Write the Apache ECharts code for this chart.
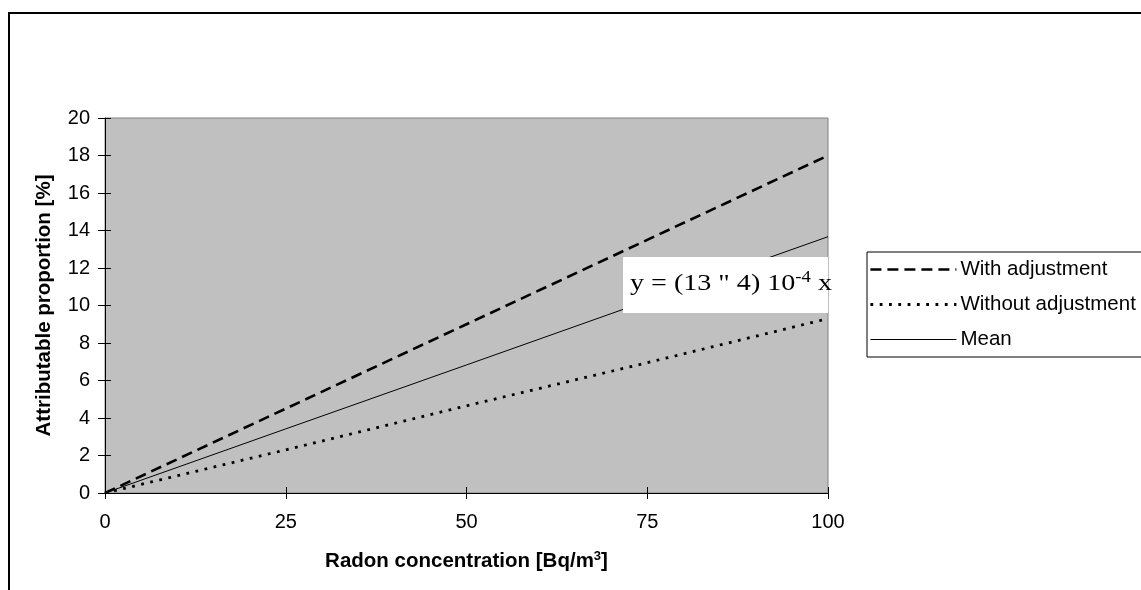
<!DOCTYPE html>
<html>
<head>
<meta charset="utf-8">
<script src="https://cdn.jsdelivr.net/npm/echarts@6/dist/echarts.min.js"></script>
<style>
html,body{margin:0;padding:0;background:#fff;}
#chart{width:1141px;height:590px;}
</style>
</head>
<body>
<div id="chart"></div>
<script>
const radon = [0, 25, 50, 75, 100];
const withAdjustment = [0, 4.5, 9.0, 13.5, 18.0];
const withoutAdjustment = [0, 2.3, 4.65, 6.95, 9.3];
const meanValues = [0, 3.42, 6.83, 10.25, 13.67];
const xTicks = [0, 25, 50, 75, 100];
const yTicks = [0, 2, 4, 6, 8, 10, 12, 14, 16, 18, 20];
const seriesNames = ['With adjustment', 'Without adjustment', 'Mean'];

const pairs = (ys) => radon.map((x, i) => [x, ys[i]]);
const sans = "'Liberation Sans', Arial, sans-serif";
const serif = "'Liberation Serif', 'Times New Roman', serif";

const dashStyle = {color: '#000', width: 2.6, type: [11, 6]};
const dotStyle = {color: '#000', width: 2.8, type: [2.8, 6.5]};
const solidStyle = {color: '#000', width: 1, type: 'solid'};

const chart = echarts.init(document.getElementById('chart'), null, {renderer: 'canvas'});

const baseX = {
  type: 'value', min: xTicks[0], max: xTicks[xTicks.length - 1], interval: 25,
  splitLine: {show: false}
};
const baseY = {
  type: 'value', min: yTicks[0], max: yTicks[yTicks.length - 1], interval: 2,
  splitLine: {show: false}
};

chart.setOption({
  animation: false,
  backgroundColor: '#fff',
  grid: {
    left: 105, top: 118, right: 313, bottom: 97,
    show: true, backgroundColor: '#c0c0c0', borderColor: '#808080', borderWidth: 1
  },
  xAxis: [
    Object.assign({}, baseX, {
      position: 'bottom',
      name: '{a|Radon concentration [Bq/m}{s|3}{a|]}',
      nameLocation: 'middle', nameGap: 57,
      nameTextStyle: {
        rich: {
          a: {fontFamily: sans, fontSize: 20.5, fontWeight: 'bold', color: '#000', lineHeight: 22},
          s: {fontFamily: sans, fontSize: 13, fontWeight: 'bold', color: '#000', verticalAlign: 'top', lineHeight: 13}
        }
      },
      axisLine: {show: true, onZero: false, lineStyle: {color: '#000', width: 1}},
      axisTick: {show: true, inside: false, length: 6, lineStyle: {color: '#000'}},
      axisLabel: {margin: 19, fontFamily: sans, fontSize: 20, color: '#000'}
    }),
    Object.assign({}, baseX, {
      position: 'bottom',
      axisLine: {show: false},
      axisTick: {show: true, inside: true, length: 6, lineStyle: {color: '#000'}},
      axisLabel: {show: false}
    })
  ],
  yAxis: [
    Object.assign({}, baseY, {
      position: 'left',
      name: 'Attributable proportion [%]',
      nameLocation: 'middle', nameGap: 50, nameRotate: 90,
      nameTextStyle: {fontFamily: sans, fontSize: 20.5, fontWeight: 'bold', color: '#000'},
      axisLine: {show: true, onZero: false, lineStyle: {color: '#000', width: 1}},
      axisTick: {show: true, inside: false, length: 7, lineStyle: {color: '#000'}},
      axisLabel: {margin: 15, fontFamily: sans, fontSize: 20, color: '#000'}
    }),
    Object.assign({}, baseY, {
      position: 'left',
      axisLine: {show: false},
      axisTick: {show: true, inside: true, length: 6, lineStyle: {color: '#000'}},
      axisLabel: {show: false}
    })
  ],
  legend: {
    orient: 'vertical',
    left: 867, top: 252,
    data: [
      {name: seriesNames[0], lineStyle: dashStyle},
      {name: seriesNames[1], lineStyle: dotStyle},
      {name: seriesNames[2], lineStyle: solidStyle}
    ],
    backgroundColor: '#fff',
    borderColor: '#000', borderWidth: 1, borderRadius: 0,
    padding: [7, 60, 7, 2],
    itemWidth: 86, itemHeight: 20, itemGap: 14,
    selectedMode: false,
    itemStyle: {opacity: 0},
    textStyle: {fontFamily: sans, fontSize: 20.5, color: '#000', padding: [0, 0, 0, -1]}
  },
  series: [
    {
      name: seriesNames[0], type: 'line', data: pairs(withAdjustment),
      symbol: 'none', z: 3,
      itemStyle: {color: '#000'},
      lineStyle: dashStyle
    },
    {
      name: seriesNames[1], type: 'line', data: pairs(withoutAdjustment),
      symbol: 'none', z: 3,
      itemStyle: {color: '#000'},
      lineStyle: dotStyle
    },
    {
      name: seriesNames[2], type: 'line', data: pairs(meanValues),
      symbol: 'none', z: 2,
      itemStyle: {color: '#000'},
      lineStyle: solidStyle
    }
  ],
  graphic: [
    {
      type: 'rect', z: -10, silent: true,
      shape: {x: 9, y: 13, width: 1300, height: 800},
      style: {fill: 'none', stroke: '#000', lineWidth: 2}
    },
    {
      type: 'rect', z: 100, silent: true,
      shape: {x: 623, y: 257, width: 205, height: 56},
      style: {fill: '#fff', stroke: 'none'}
    },
    {
      type: 'text', z: 101, silent: true,
      x: 630, y: 284, scaleX: 1.17,
      style: {
        text: '{a|y = (13 " 4) 10}{s|-4}{a| x}',
        textVerticalAlign: 'middle',
        verticalAlign: 'middle',
        rich: {
          a: {fontFamily: serif, fontSize: 24, fill: '#000', lineHeight: 28},
          s: {fontFamily: serif, fontSize: 16, fill: '#000', verticalAlign: 'top', lineHeight: 16}
        }
      }
    }
  ]
});
</script>
</body>
</html>
